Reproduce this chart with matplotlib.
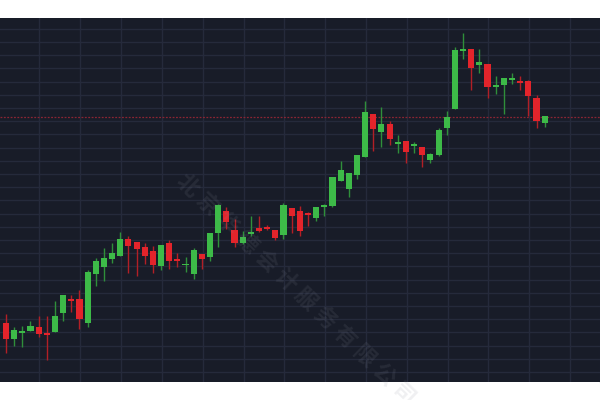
import numpy as np
import matplotlib
matplotlib.use("Agg")
import matplotlib.pyplot as plt

plt.rcParams['font.family'] = ['Noto Sans CJK SC', 'DejaVu Sans']

# ===== K線資料 (價格單位自圖讀取) =====
opens = [76.7, 60.7, 66.7, 69.3, 73.3, 67.0, 67.7, 86.7, 101.0, 100.7,
         76.7, 126.0, 133.3, 140.7, 144.3, 161.0, 157.7, 152.7, 149.0, 134.0,
         156.7, 140.7, 134.7, 125.7, 145.7, 142.7, 167.3, 189.0, 170.0, 156.7,
         165.7, 171.7, 173.0, 169.7, 165.0, 192.0, 189.0, 186.7, 182.0, 192.7,
         194.0, 219.0, 210.7, 225.0, 243.3, 286.0, 268.3, 276.3, 256.3, 258.7,
         254.0, 253.3, 240.0, 245.0, 272.3, 290.7, 349.0, 350.7, 335.3, 336.0,
         312.7, 315.0, 320.0, 319.3, 318.7, 302.0, 277.0]
closes = [60.7, 70.0, 69.0, 74.0, 65.7, 65.0, 84.3, 105.0, 99.3, 80.7,
          127.7, 139.3, 141.7, 146.7, 161.0, 154.3, 150.7, 144.0, 134.7, 155.0,
          138.7, 139.0, 136.3, 150.0, 141.3, 166.7, 195.3, 178.3, 156.7, 163.0,
          167.7, 169.3, 171.0, 162.0, 195.3, 184.0, 169.3, 185.0, 193.3, 194.7,
          222.7, 230.0, 227.3, 245.0, 288.3, 270.7, 276.0, 261.3, 258.0, 248.0,
          255.7, 244.7, 245.7, 269.7, 282.7, 350.0, 350.7, 331.7, 338.0, 313.0,
          314.7, 321.7, 321.3, 317.3, 303.7, 278.7, 283.7]
highs = [86.0, 73.3, 74.0, 79.0, 84.0, 84.0, 99.3, 105.0, 105.0, 110.0,
         130.0, 141.7, 152.3, 157.3, 167.7, 164.0, 157.7, 156.7, 154.0, 155.0,
         160.0, 146.7, 143.3, 151.7, 145.7, 166.7, 196.0, 192.7, 181.0, 169.3,
         184.3, 184.3, 174.7, 169.7, 196.7, 192.0, 194.0, 188.3, 193.3, 196.0,
         222.7, 239.3, 227.3, 245.0, 299.0, 286.0, 293.3, 279.0, 265.0, 258.7,
         257.7, 253.3, 246.7, 271.7, 289.0, 352.7, 366.7, 350.7, 351.0, 336.0,
         324.0, 321.7, 326.7, 324.3, 320.0, 304.7, 283.7]
lows = [47.3, 54.0, 52.7, 69.3, 62.7, 40.0, 67.7, 79.3, 88.3, 70.7,
        73.3, 114.3, 119.0, 136.7, 144.3, 127.3, 124.0, 136.0, 127.3, 130.0,
        130.7, 132.7, 128.3, 121.3, 130.7, 139.0, 153.3, 170.7, 153.3, 156.0,
        164.3, 168.3, 170.0, 160.0, 161.3, 167.3, 164.3, 174.0, 178.7, 184.0,
        192.7, 219.0, 203.3, 221.0, 243.3, 249.3, 252.7, 255.0, 247.3, 237.3,
        246.7, 233.3, 236.7, 244.0, 265.0, 290.7, 341.0, 309.7, 326.7, 301.7,
        306.0, 286.0, 316.0, 310.0, 284.0, 271.7, 273.3]
last_price = 283.0

up_color = '#3dba48'
down_color = '#e3242b'
up_wick = '#2f8f3a'
down_wick = '#b21f26'
bg_color = '#181c28'
grid_color = '#252a3b'

o = np.array(opens)
c = np.array(closes)
h = np.array(highs)
l = np.array(lows)
x = np.arange(len(o))
up = c >= o

fig = plt.figure(figsize=(6, 4), dpi=100)
fig.patch.set_facecolor('white')
ax = fig.add_axes([0, 18 / 400, 1, 364 / 400])
ax.set_facecolor(bg_color)

# 網格
ax.set_xticks(np.arange(4.1, 73, 5))
ax.set_yticks(28 + 13.2 * np.arange(0, 27))
ax.grid(True, color=grid_color, linewidth=1.0)
ax.tick_params(length=0, labelbottom=False, labelleft=False)
ax.set_axisbelow(True)
for s in ['top', 'bottom', 'left']:
    ax.spines[s].set_visible(False)
ax.spines['right'].set_color(grid_color)

# 影線
ax.vlines(x[up], l[up], h[up], color=up_wick, linewidth=1.0, zorder=2)
ax.vlines(x[~up], l[~up], h[~up], color=down_wick, linewidth=1.0, zorder=2)

# 實體
body_bottom = np.minimum(o, c)
body_height = np.maximum(np.abs(c - o), 1.6)
ax.bar(x[up], body_height[up], bottom=body_bottom[up], width=0.75,
       color=up_color, linewidth=0, zorder=3)
ax.bar(x[~up], body_height[~up], bottom=body_bottom[~up], width=0.75,
       color=down_color, linewidth=0, zorder=3)

# 最新價格線
ax.axhline(last_price, color='#8a2533', linewidth=0.9, linestyle=(0, (1.5, 1.2)), zorder=1)

ax.set_xlim(-0.735, 72.78)
ax.set_ylim(18, 382)

# 水印
fig.text(296 / 600, 1 - 290 / 400, "北 京 华 德 会 计 服 务 有 限 公 司",
         rotation=-44, ha='center', va='center', fontsize=16, fontweight='bold',
         color='#8a8f9c', alpha=0.13, zorder=10)

fig.savefig('out.png', dpi=100, facecolor=fig.get_facecolor())
